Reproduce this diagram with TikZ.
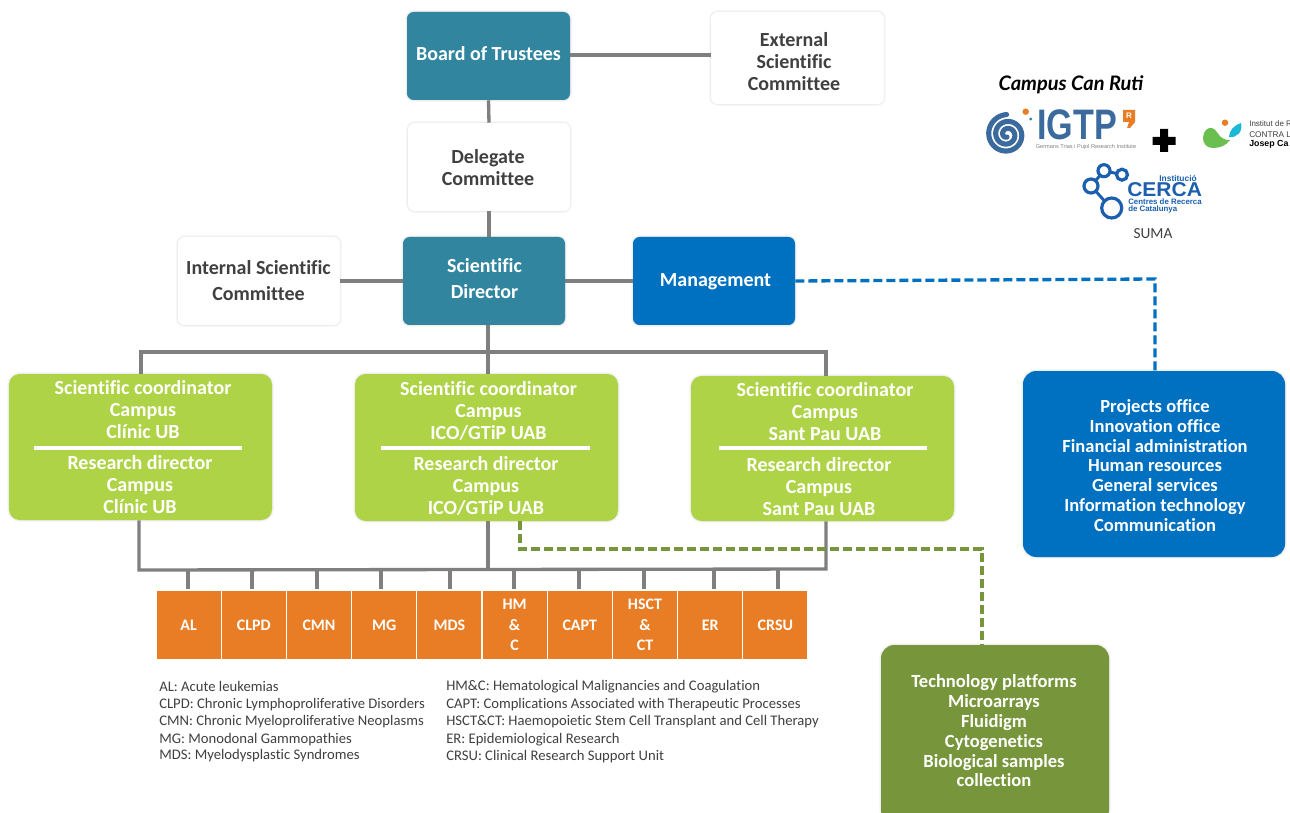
\documentclass[tikz,border=0pt]{standalone}
\usepackage{fontspec}
\setmainfont[Ligatures={NoCommon}]{Carlito}
\newfontfamily\logofont{Liberation Sans}
\newfontfamily\handfont{Lato}
\usetikzlibrary{shadows,calc}
\definecolor{teal}{HTML}{31859F}
\definecolor{lime}{HTML}{AED346}
\definecolor{orng}{HTML}{E87D25}
\definecolor{mblue}{HTML}{0070C0}
\definecolor{olive}{HTML}{77963C}
\definecolor{conn}{HTML}{7F7F7F}
\definecolor{dark}{HTML}{404040}
\definecolor{logoblue}{HTML}{3A6A9E}
\definecolor{cercablue}{HTML}{1B5FAE}
\definecolor{jcgreen}{HTML}{6BBF4E}
\definecolor{jccyan}{HTML}{1CB8D8}
\tikzset{
  pxsize/.style args={#1 by #2}{minimum width=#1*0.75pt,minimum height=#2*0.75pt},
  boxbase/.style={rectangle,rounded corners=5pt,inner sep=0pt,
    preaction={draw=black!3,line width=2.8pt},
    preaction={draw=black!7,line width=1.2pt}},
  bigcorner/.style={rounded corners=8pt},
  tealbox/.style={boxbase,fill=teal},
  whitebox/.style={boxbase,fill=white},
  bluebox/.style={boxbase,fill=mblue},
  limebox/.style={boxbase,bigcorner,fill=lime},
  lblw/.style={inner sep=0pt,align=center,text=white,font=\fontsize{15}{16.5}\selectfont\bfseries},
  lbld/.style={lblw,text=dark},
  lbll/.style={lblw,font=\fontsize{13.9}{14.85}\selectfont\bfseries},
  orbox/.style={rectangle,fill=orng,text=white,draw=white,line width=.8pt,inner sep=0pt,align=center,
    font=\fontsize{12}{15.5}\selectfont\bfseries,pxsize=65.2 by 70},
  link/.style={draw=conn,line width=2.5pt},
  tick/.style={draw=conn,line width=2.3pt},
  dashblue/.style={draw=mblue,line width=2.5pt,dash pattern=on 6.75pt off 3pt},
  dashgreen/.style={draw=olive,line width=2.5pt,dash pattern=on 6.75pt off 3pt},
  legend/.style={anchor=west,inner sep=0pt,text=dark,font=\fontsize{11}{12}\selectfont},
}
\begin{document}
\begin{tikzpicture}[x=0.75pt,y=-0.75pt]
\useasboundingbox (0,0) rectangle (1290,813);
\clip (0,0) rectangle (1290,813);
\fill[white] (0,0) rectangle (1290,813);

% boxes
\node[tealbox,pxsize=163 by 88] (board) at (488.5,56) {};
\node[lblw] (boardT) at (488.5,54) {Board of Trustees};
\node[whitebox,pxsize=173 by 92] (external) at (797.5,58) {};
\node[lbld] (externalT) at (794,62) {External\\Scientific\\Committee};
\node[whitebox,pxsize=162 by 88] (delegate) at (489,167) {};
\node[lbld] (delegateT) at (488,168) {Delegate\\Committee};
\node[whitebox,pxsize=162 by 88] (internal) at (259,281) {};
\node[lbld,font=\fontsize{15}{19.5}\selectfont\bfseries] (internalT) at (258.5,281) {Internal Scientific\\Committee};
\node[tealbox,pxsize=162 by 88] (director) at (484,281) {};
\node[lblw,font=\fontsize{15}{19.5}\selectfont\bfseries] (directorT) at (484.5,279) {Scientific\\Director};
\node[bluebox,pxsize=162 by 88] (management) at (714,281) {};
\node[lblw] (managementT) at (715.5,281.5) {Management};

\node[limebox,pxsize=263 by 146] (coordA) at (140.5,447) {};
\node[lblw] (coordAa) at (143,410) {Scientific coordinator\\Campus\\Clínic UB};
\node[lblw] (coordAb) at (140,485) {Research director\\Campus\\Clínic UB};
\node[limebox,pxsize=263 by 147] (coordB) at (486.5,447.5) {};
\node[lblw] (coordBa) at (488.5,411) {Scientific coordinator\\Campus\\ICO/GTiP UAB};
\node[lblw] (coordBb) at (486,485.5) {Research director\\Campus\\ICO/GTiP UAB};
\node[limebox,pxsize=263 by 145] (coordC) at (822.5,448.5) {};
\node[lblw] (coordCa) at (825,412) {Scientific coordinator\\Campus\\Sant Pau UAB};
\node[lblw] (coordCb) at (819,487) {Research director\\Campus\\Sant Pau UAB};
\draw[white,line width=2.4pt] (34,448) -- (242,448) (381,448) -- (590,448) (719,448) -- (927,448);

\node[boxbase,rounded corners=10pt,fill=mblue,pxsize=262 by 186] (office) at (1154,464) {};
\node[lbll] (officeT) at (1155,465.5) {Projects office\\Innovation office\\Financial administration\\Human resources\\General services\\Information technology\\Communication};
\node[boxbase,rounded corners=10pt,fill=olive,pxsize=228 by 178] (platforms) at (995,734) {};
\node[lbll] (platformsT) at (994,731) {Technology platforms\\Microarrays\\Fluidigm\\Cytogenetics\\Biological samples\\collection};

% orange row
\foreach \n/\t [count=\i from 0] in {al/AL,clpd/CLPD,cmn/CMN,mg/MG,mds/MDS,hmc/{HM\\\&\\C},capt/CAPT,hsct/{HSCT\\\&\\CT},er/ER,crsu/CRSU}{
  \node[orbox] (\n) at ({156+65.2*(\i+.5)},625) {\t};
}

% solid connectors
\draw[link] (board.east |- 0,55) -- (external.west |- 0,55);
\draw[link] (board.south) -- (delegate.north);
\draw[link] (delegate.south) -- (delegate.south |- director.north);
\draw[link] (internal.east) -- (director.west);
\draw[link] (director.east) -- (management.west);

\coordinate (topL) at (141,352);
\coordinate (topR) at (826,352);
\coordinate (topM) at (488,352);
\draw[link] (topM |- director.south) -- (topM);
\draw[link] (coordA.north -| topL) -- (topL) -- (topR) -- (coordC.north -| topR);
\draw[link] (topM) -- (topM |- coordB.north);

\coordinate (botL) at (139,570);
\coordinate (botR) at (826,569);
\coordinate (botM) at (488,570);
\draw[link] (botL |- coordA.south) -- (botL) -- (botR) -- (botR |- coordC.south);
\draw[link] (botM |- coordB.south) -- (botM);
\foreach \n/\x in {al/188,clpd/252,cmn/317,mg/381,mds/450,hmc/514,capt/579,hsct/644,er/714,crsu/778}{
  \coordinate (t\n) at (\x,570);
  \draw[tick] (t\n) -- (t\n |- \n.north);
}

% dashed connectors
\coordinate (mgElbow) at (1155,279);
\draw[dashblue] (management.east) -- (mgElbow) -- (mgElbow |- office.north);
\coordinate (gA) at (520,549);
\coordinate (gB) at (982,549);
\draw[dashgreen] (gA |- coordB.south) -- (gA) -- (gB) -- (gB |- platforms.north);

% legend
\foreach \t/\y in {{AL: Acute leukemias}/686,{CLPD: Chronic Lymphoproliferative Disorders}/704.5,{CMN: Chronic Myeloproliferative Neoplasms}/721.5,{MG: Monodonal Gammopathies}/739.5,{MDS: Myelodysplastic Syndromes}/755.5}{
  \node[legend] at (159,\y) {\t};
}
\foreach \t/\y in {{HM\&C: Hematological Malignancies and Coagulation}/687,{CAPT: Complications Associated with Therapeutic Processes}/704.5,{HSCT\&CT: Haemopoietic Stem Cell Transplant and Cell Therapy}/721.5,{ER: Epidemiological Research}/739.5,{CRSU: Clinical Research Support Unit}/756.5}{
  \node[legend] at (446,\y) {\t};
}

% logos
\node[inner sep=0pt,font=\handfont\itshape\bfseries\fontsize{15}{16}\selectfont] (campus) at (1071,85) {Campus Can Ruti};
% IGTP
\draw[logoblue,line width=3.8pt,line cap=round,domain=0:1,samples=120,smooth,variable=\t]
  plot ({1007+(2.5+17.5*\t)*cos(900*\t+90)},{134.5+(2.5+17.5*\t)*sin(900*\t+90)});
\fill[orng] (1025.7,111.7) circle (3.2);
\fill[teal] (1030.7,119) circle (1.6);
\node[inner sep=0pt,xscale=.8,text depth=0pt,text height=23pt,text=logoblue,font=\logofont\bfseries\fontsize{32}{34}\selectfont] (igtp) at (1077,124.5) {IGTP};
\node[inner sep=0pt,text=gray,font=\logofont\fontsize{4.2}{5}\selectfont] (igtpsub) at (1086,147) {Germans Trias i Pujol Research Institute};
\fill[orng] (1123,110) -- (1135,110) -- (1135,122) -- (1130,128) -- (1127,128) -- (1129,122) -- (1123,122) -- cycle;
\node[inner sep=0pt,text=white,font=\logofont\bfseries\fontsize{6}{6}\selectfont] (igtpr) at (1129,116) {R};
% plus
\fill[black] (1160,129) rectangle (1168,152) (1152.5,137) rectangle (1175.5,145);
% Josep Carreras
\fill[jcgreen] (1203,138) .. controls (1203,131) and (1208,127) .. (1212,128) .. controls (1217,129) and (1218,137) .. (1224,139) .. controls (1226,140) and (1228,140) .. (1230,140) .. controls (1226,146) and (1219,148) .. (1213,148) .. controls (1207,148) and (1203,144) .. (1203,138) -- cycle;
\fill[orng] (1225,122.7) circle (3.2);
\fill[jccyan] (1241,123) .. controls (1243,132) and (1237,138) .. (1229,137) .. controls (1229,131) and (1234,125) .. (1241,123) -- cycle;
\node[anchor=west,inner sep=0pt,text=dark,font=\logofont\fontsize{6}{8}\selectfont] (jc1) at (1249,124) {Institut de R};
\node[anchor=west,inner sep=0pt,text=dark,font=\logofont\fontsize{6.2}{8}\selectfont] (jc2) at (1249,134.5) {CONTRA L};
\node[anchor=west,inner sep=0pt,text=black,font=\logofont\bfseries\fontsize{6.6}{8}\selectfont] (jc3) at (1249,144) {Josep Ca};
% CERCA
\draw[cercablue,line width=2.4pt] (1104,170.7) circle (6) (1122,174.7) circle (5.5) (1091,186) circle (7) (1111.7,208) circle (10);
\draw[cercablue,line width=2.2pt] (1110,172) -- (1116.7,173.5) (1095.5,180.7) -- (1100,175.5) (1095.8,191.2) -- (1104.5,201);
\node[anchor=east,inner sep=0pt,text=cercablue,font=\logofont\bfseries\fontsize{6.3}{7}\selectfont] (cerca0) at (1197,178) {Institució};
\node[anchor=west,inner sep=0pt,xscale=1.05,text=cercablue,font=\logofont\bfseries\fontsize{15}{16}\selectfont] (cerca1) at (1127,190) {CERCA};
\node[anchor=west,inner sep=0pt,text=cercablue,font=\logofont\bfseries\fontsize{5.9}{6}\selectfont] (cerca2) at (1128,202) {Centres de Recerca};
\node[anchor=west,inner sep=0pt,text=cercablue,font=\logofont\bfseries\fontsize{5.9}{6}\selectfont] (cerca3) at (1128,209.5) {de Catalunya};
\node[inner sep=0pt,text=dark,font=\fontsize{11.5}{12}\selectfont] (suma) at (1153,234) {SUMA};
\end{tikzpicture}
\end{document}
